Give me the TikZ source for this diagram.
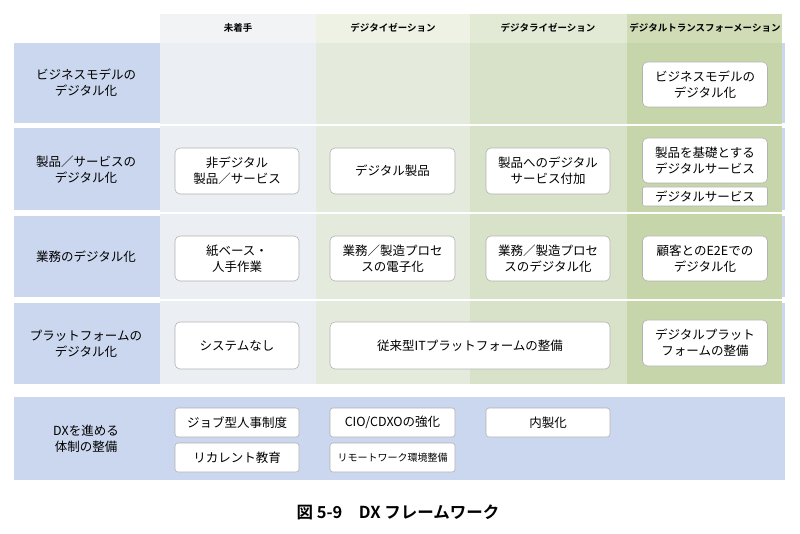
\documentclass[tikz,border=0pt]{standalone}
\usepackage{fontspec}
\setmainfont{Noto Sans CJK JP}
\newfontfamily\jpb{Noto Sans CJK JP Bold}
\begin{document}
\begin{tikzpicture}[x=1pt,y=-1pt,
  cell/.style={draw=black!30,line width=0.6pt,fill=white,rounded corners=5pt,align=center,font=\fontsize{12.5}{16}\selectfont,inner sep=0pt},
  rowlab/.style={align=center,font=\fontsize{12.5}{16}\selectfont},
  head/.style={font=\jpb\fontsize{9.5}{11}\selectfont}]
\useasboundingbox (0,0) rectangle (800,534);
\definecolor{rowb}{HTML}{CAD7EE}
\definecolor{c1}{HTML}{EBEEF3}\definecolor{c2}{HTML}{E4EBDD}\definecolor{c3}{HTML}{D7E2C8}\definecolor{c4}{HTML}{C6D5AA}
\definecolor{h1}{HTML}{F2F3F4}\definecolor{h2}{HTML}{EEF2E4}\definecolor{h3}{HTML}{E2EAD5}\definecolor{h4}{HTML}{CFDCB6}
% row bands
\foreach \a/\b in {43/123,128/210,216/297,303/384,397/480} \fill[rowb] (14,\a) rectangle (785,\b);
% columns
\fill[c1] (160,43) rectangle (316,384);
\fill[c2] (316,43) rectangle (470,384);
\fill[c3] (470,43) rectangle (627,384);
\fill[c4] (627,43) rectangle (782,384);
\fill[h1] (160,14) rectangle (316,43);
\fill[h2] (316,14) rectangle (470,43);
\fill[h3] (470,14) rectangle (627,43);
\fill[h4] (627,14) rectangle (782,43);
\foreach \y in {125.5,213,300} \fill[white] (14,\y-1) rectangle (785,\y+1);
% headers
\node[head] (h1) at (238,28) {未着手};
\node[head] (h2) at (393,28) {デジタイゼーション};
\node[head] (h3) at (548,28) {デジタライゼーション};
\node[head] (h4) at (705,28) {デジタルトランスフォーメーション};
% row labels
\node[rowlab] (r1) at (86,83) {ビジネスモデルの\\デジタル化};
\node[rowlab] (r2) at (86,170) {製品／サービスの\\デジタル化};
\node[rowlab] (r3) at (86,257) {業務のデジタル化};
\node[rowlab] (r4) at (86,344) {プラットフォームの\\デジタル化};
\node[rowlab] (r5) at (86,439) {DXを進める\\体制の整備};
% cells
\node[cell,minimum width=125,minimum height=45] (b14) at (705,84.5) {ビジネスモデルの\\デジタル化};
\node[cell,minimum width=124,minimum height=46] (b21) at (237,171) {非デジタル\\製品／サービス};
\node[cell,minimum width=125,minimum height=46] (b22) at (392.5,171) {デジタル製品};
\node[cell,minimum width=124,minimum height=46] (b23) at (548,171) {製品へのデジタル\\サービス付加};
\node[cell,minimum width=125,minimum height=45] (b24) at (705,160.5) {製品を基礎とする\\デジタルサービス};
\node[cell,minimum width=125,minimum height=19,rounded corners=2pt] (b24b) at (705,196.5) {デジタルサービス};
\node[cell,minimum width=124,minimum height=45] (b31) at (237,258.5) {紙ベース・\\人手作業};
\node[cell,minimum width=125,minimum height=45] (b32) at (392.5,258.5) {業務／製造プロセ\\スの電子化};
\node[cell,minimum width=124,minimum height=45] (b33) at (548,258.5) {業務／製造プロセ\\スのデジタル化};
\node[cell,minimum width=125,minimum height=45] (b34) at (705,258.5) {顧客とのE2Eでの\\デジタル化};
\node[cell,minimum width=124,minimum height=47] (b41) at (237,345.5) {システムなし};
\node[cell,minimum width=280,minimum height=47] (b42) at (470,345.5) {従来型ITプラットフォームの整備};
\node[cell,minimum width=125,minimum height=46] (b44) at (705,343) {デジタルプラット\\フォームの整備};
\node[cell,minimum width=124,minimum height=29,rounded corners=3pt] (b51) at (237,422.5) {ジョブ型人事制度};
\node[cell,minimum width=124,minimum height=29,rounded corners=3pt] (b52) at (237,457.5) {リカレント教育};
\node[cell,minimum width=125,minimum height=29,rounded corners=3pt] (b53) at (392.5,422.5) {CIO/CDXOの強化};
\node[cell,minimum width=125,minimum height=29,rounded corners=3pt,font=\fontsize{10}{12}\selectfont] (b54) at (392.5,457.5) {リモートワーク環境整備};
\node[cell,minimum width=124,minimum height=29,rounded corners=3pt] (b55) at (548,422.5) {内製化};
\node[font=\jpb\fontsize{16.5}{20}\selectfont] (cap) at (398,512) {図 5-9\quad DX フレームワーク};
\end{tikzpicture}
\end{document}
